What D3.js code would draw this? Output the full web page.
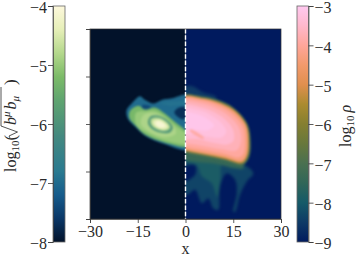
<!DOCTYPE html>
<html>
<head>
<meta charset="utf-8">
<script src="https://cdn.jsdelivr.net/npm/d3@7"></script>
<style>
  html, body { margin: 0; padding: 0; background: #fff; }
  svg text { font-family: "Liberation Serif", serif; fill: #2a2a2a; }
</style>
</head>
<body>
<div id="chart"></div>
<script>
const xTicks = [-30, -15, 0, 15, 30];
const yTicks = [-30, -15, 0, 15, 30];
const leftTicks = [-4, -5, -6, -7, -8];
const rightTicks = [-3, -4, -5, -6, -7, -8, -9];

// colormaps: value, colour
const leftStops = [[-8, '#02122a'], [-7.6, '#0a3767'], [-7.2, '#165c8c'], [-6.8, '#2a7a90'], [-6.2, '#44897f'], [-5.6, '#5fa470'], [-5.2, '#7cbb68'], [-4.8, '#b4d88c'], [-4.4, '#e6efb8'], [-4, '#fdf8dc']];
const rightStops = [[-9, '#001a5e'], [-8.5, '#0e3a66'], [-8, '#155a68'], [-7.5, '#316658'], [-7, '#4a7050'], [-6.5, '#68783c'], [-6, '#857f30'], [-5.5, '#ab8b30'], [-5, '#e08f4e'], [-4.5, '#f29a6c'], [-4, '#ffa69a'], [-3.5, '#ffb8cc'], [-3, '#ffc9f0']];

// left half: magnetic field, level then outline [x, y] in simulation units
const leftLevels = [-7.0, -6.9, -7.7, -7.4, -5.25, -5.0, -4.85, -5.9, -4.75, -4.4, -4.1];
const leftOutlines = [
  [[1, 9], [-4.3, 8.1], [-7.5, 7.6], [-10, 6.5], [-12.7, 7.6], [-14.3, 8.8], [-16.9, 6.5], [-18.5, 4.4], [-18.2, 1.8], [-15.9, -.8], [-12.7, -3.7], [-6.4, -6.4], [1, -7.9]],
  [[-8, 6.6], [-4, 7], [1, 7], [1, 5.8], [-2, 6], [-5, 5.8]],
  [[-2, 5.2], [1, 5], [1, 2.6], [-1, 1.5], [-3.5, 3.6]],
  [[-13.5, 6], [-11, 5.6], [-11.5, 4.6], [-13.5, 4.8]],
  [[-17.4, 4.2], [-14.8, 5.8], [-12.7, 4.6], [-9.6, 5.2], [-6.4, 3.2], [-3.3, .6], [1, -3.2], [1, -7], [-6.4, -5.9], [-12.7, -3.4], [-15.6, -.6], [-17.6, 1.8]],
  [[-15.5, 3.6], [-12, 4], [-9.6, 4.2], [-6.4, 2.4], [-3.3, -.4], [1, -4], [1, -6.2], [-6.4, -5.2], [-12, -2.9], [-15.4, -.4]],
  [[-13, 3], [-9.5, 3.4], [-6, 1.6], [-3.6, -.9], [-3, -3], [-7, -4.2], [-11.5, -2.4], [-14, 0]],
  [[-11, 2.4], [-8.5, 2.6], [-5.7, 1.2], [-4, -1], [-4.8, -2.6], [-7.5, -2.8], [-10.5, -1.6], [-11.8, .4]],
  [[-10.7, 1.7], [-8.4, 2], [-6, .7], [-4.8, -1], [-5.6, -2], [-7.6, -2.1], [-10, -1.1], [-11, .4]],
  [[-10, 1.2], [-8.2, 1.4], [-6.3, .4], [-5.4, -.9], [-6.2, -1.6], [-7.8, -1.6], [-9.5, -.8], [-10.3, .3]],
  [[-9.3, .7], [-8, .9], [-6.8, .1], [-6.2, -.7], [-7, -1.1], [-8.2, -1.1], [-9.2, -.4]]
];

// right half: thin gas below and above the torus
const plumeLevels = [-8.5, -8.35, -9, -7.9, -7.4];
const plumeOutlines = [
  [[-1, 11.5], [2, 12], [5.5, 10], [9.6, 8.5], [9, 6], [-1, 6]],
  [[-1, -8.2], [17.7, -12.4], [21.3, -15.6], [19.2, -18.2], [17.1, -22.4], [15.6, -27.7], [15, -27.7], [16.1, -21.9], [15.6, -17.7], [12.9, -15.6], [10.8, -19.8], [10.3, -27.1], [8.7, -26.6], [7.2, -23.5], [5.1, -25], [3, -20.8], [.4, -22.4], [-1, -18.7]],
  [[-1, -14], [3, -13], [3, -16], [-1, -18.2]],
  [[-1, -8.2], [17.7, -12.4], [18.4, -14], [14.5, -14], [11.5, -12.8], [11, -17.6], [10, -23], [8.2, -18.7], [5.2, -16.6], [3.5, -13], [-1, -11.5]],
  [[-1, -8.5], [12, -11], [18, -12.4], [18, -14], [14, -13.6], [9, -12.5], [4, -12], [-1, -11]]
];

// right half: density, level then outline
const rightLevels = [-7, -5.3, -4.3, -3.95, -3.7, -3.45, -3.25, -3.08, -3.9];
const rightOutlines = [
  [[-1, 8.9], [5, 8.8], [10, 7.7], [15, 5.2], [19.5, 0], [20.5, -6], [20, -10.5], [18, -13], [12.4, -11.6], [6.1, -10.4], [0, -9.2], [-1, -9]],
  [[-1, 8.5], [5, 8.3], [9.8, 7.2], [15.2, 4.6], [19.2, -.2], [20, -6], [19.5, -10.2], [17.8, -12.4], [12.4, -11.1], [6.1, -9.8], [0, -8.6], [-1, -8.4]],
  [[-1, 8.2], [5, 8], [9.6, 6.9], [14.9, 4.3], [18.9, -.4], [19.6, -6], [19.1, -10], [17.6, -11.8], [12.2, -10.5], [6, -9.3], [0, -8.1], [-1, -7.9]],
  [[-1, 7.6], [5, 7.4], [9.2, 6.2], [14.2, 3.6], [18, -.8], [18.7, -6], [18.2, -9.4], [16.8, -10.6], [12, -9.4], [6, -8.3], [0, -7.3], [-1, -7.1]],
  [[-1, 6.8], [5, 6.5], [9, 5.2], [13.5, 2.6], [16.8, -1.2], [17.4, -5.6], [16, -8.4], [11.5, -8], [6, -7], [0, -6], [-1, -5.8]],
  [[-1, 5.8], [4.5, 5.4], [8.5, 4], [12.5, 1.4], [15, -2], [15, -5.4], [13, -6.5], [9, -6], [4, -4.8], [-1, -4.2]],
  [[-1, 4.8], [4, 4.4], [8, 2.8], [11.2, .4], [12.8, -2.4], [11.5, -4.2], [8, -4.2], [3, -3.2], [-1, -2.8]],
  [[-1, 3.5], [4, 3], [7, 1.5], [9, -.5], [7, -2], [3, -1.8], [-1, -1.5]],
  [[1.5, -1.7], [5.8, -4.3], [5.6, -4.7], [1.3, -2.1]]
];

const width = 357, height = 257;
const plot = {left: 90, right: 281, top: 29, bottom: 219};
const cbar = {top: 6, bottom: 242};

const x = d3.scaleLinear().domain([-30, 30]).range([plot.left, plot.right]);
const y = d3.scaleLinear().domain([-30, 30]).range([plot.bottom, plot.top]);
const leftBarY = d3.scaleLinear().domain([-8, -4]).range([cbar.bottom, cbar.top]);
const rightBarY = d3.scaleLinear().domain([-9, -3]).range([cbar.bottom, cbar.top]);

const leftColor = d3.scaleLinear().domain(leftStops.map(d => d[0])).range(leftStops.map(d => d[1]));
const rightColor = d3.scaleLinear().domain(rightStops.map(d => d[0])).range(rightStops.map(d => d[1]));
const minus = d => String(d).replace('-', '\u2212');

const svg = d3.select('#chart').append('svg')
  .attr('width', width)
  .attr('height', height)
  .style('display', 'block');

const defs = svg.append('defs');

defs.append('clipPath').attr('id', 'clip-left').append('rect')
  .attr('x', x(-30)).attr('y', y(30)).attr('width', x(0) - x(-30)).attr('height', y(-30) - y(30));
defs.append('clipPath').attr('id', 'clip-right').append('rect')
  .attr('x', x(0)).attr('y', y(30)).attr('width', x(30) - x(0)).attr('height', y(-30) - y(30));

[['blur-fine', 0.8], ['blur-mid', 1.0], ['blur-wide', 1.4]].forEach(([id, s]) => {
  defs.append('filter').attr('id', id)
    .attr('x', '-20%').attr('y', '-20%').attr('width', '140%').attr('height', '140%')
    .attr('color-interpolation-filters', 'sRGB')
    .append('feGaussianBlur').attr('stdDeviation', s);
});

function gradient(id, stops, scale) {
  const g = defs.append('linearGradient').attr('id', id)
    .attr('x1', 0).attr('y1', 1).attr('x2', 0).attr('y2', 0);
  const [lo, hi] = d3.extent(scale.domain());
  stops.forEach(d => {
    g.append('stop')
      .attr('offset', (d[0] - lo) / (hi - lo))
      .attr('stop-color', d[1]);
  });
}
gradient('grad-left', leftStops, leftColor);
gradient('grad-right', rightStops, rightColor);

const outline = d3.line().x(d => x(d[0])).y(d => y(d[1])).curve(d3.curveCatmullRomClosed.alpha(0.5));

function half(clip, background, layers, color) {
  const g = svg.append('g').attr('clip-path', `url(#${clip})`);
  g.append('rect')
    .attr('x', x(-30)).attr('y', y(30))
    .attr('width', x(30) - x(-30)).attr('height', y(-30) - y(30))
    .attr('fill', background);
  layers.forEach(([blur, levels, outlines]) => {
    g.append('g').attr('filter', `url(#${blur})`)
      .selectAll('path')
      .data(outlines)
      .enter().append('path')
        .attr('d', outline)
        .attr('fill', (d, i) => color(levels[i]));
  });
}
half('clip-left', leftColor(-8), [['blur-fine', leftLevels, leftOutlines]], leftColor);
half('clip-right', rightColor(-9), [['blur-wide', plumeLevels, plumeOutlines], ['blur-mid', rightLevels, rightOutlines]], rightColor);

// frame and axes
svg.append('g')
    .attr('transform', `translate(0,${plot.bottom})`)
    .call(d3.axisBottom(x).tickValues(xTicks).tickSize(4).tickFormat(minus))
    .call(styleAxis);
svg.append('g')
    .attr('transform', `translate(${plot.left},0)`)
    .call(d3.axisLeft(y).tickValues(yTicks).tickSize(4).tickFormat(''))
    .call(styleAxis);

svg.append('line')
  .attr('x1', x(0)).attr('x2', x(0)).attr('y1', y(30)).attr('y2', y(-30))
  .attr('stroke', '#fff').attr('stroke-width', 1.4).attr('stroke-dasharray', '4.5,1.8');

svg.append('rect')
  .attr('x', plot.left).attr('y', plot.top)
  .attr('width', plot.right - plot.left).attr('height', plot.bottom - plot.top)
  .attr('fill', 'none').attr('stroke', '#333').attr('stroke-width', 0.7);

svg.append('text')
  .attr('x', x(0)).attr('y', 253.5)
  .attr('text-anchor', 'middle').attr('font-size', 16).text('x');

// colorbars
const leftBar = {x: 53, w: 12};
const rightBar = {x: 297, w: 11.5};

svg.append('rect')
  .attr('x', leftBar.x).attr('y', cbar.top).attr('width', leftBar.w).attr('height', cbar.bottom - cbar.top)
  .attr('fill', 'url(#grad-left)').attr('stroke', '#666').attr('stroke-width', 0.8);
svg.append('rect')
  .attr('x', rightBar.x).attr('y', cbar.top).attr('width', rightBar.w).attr('height', cbar.bottom - cbar.top)
  .attr('fill', 'url(#grad-right)').attr('stroke', '#666').attr('stroke-width', 0.8);

svg.append('g')
    .attr('transform', `translate(${leftBar.x},0)`)
    .call(d3.axisLeft(leftBarY).tickValues(leftTicks).tickSize(5).tickFormat(minus))
    .call(styleAxis)
    .call(g => g.selectAll('.tick text').attr('dy', '.42em').attr('x', -6));
svg.append('g')
    .attr('transform', `translate(${rightBar.x + rightBar.w},0)`)
    .call(d3.axisRight(rightBarY).tickValues(rightTicks).tickSize(5).tickFormat(minus))
    .call(styleAxis)
    .call(g => g.selectAll('.tick text').attr('dy', '.42em').attr('x', 6));

// colorbar titles
const leftTitle = svg.append('g').attr('transform', 'translate(16,172) rotate(-90)');
const logText = leftTitle.append('text').attr('font-size', 16);
logText.append('tspan').text('log');
logText.append('tspan').attr('font-size', 11).attr('dy', 3).text('10');
logText.append('tspan').attr('dy', -3).attr('font-size', 17).text('(');
leftTitle.append('path')
  .attr('d', 'M34,-6 L36,-7 L40,1.5 L46,-15 L85,-15')
  .attr('fill', 'none').attr('stroke', '#2a2a2a').attr('stroke-width', 0.8);
const rootText = leftTitle.append('text').attr('x', 47).attr('font-size', 16).attr('font-style', 'italic');
rootText.append('tspan').text('b');
rootText.append('tspan').attr('font-size', 11).attr('dy', -6).text('\u03BC');
rootText.append('tspan').attr('dy', 6).attr('dx', 2).text('b');
rootText.append('tspan').attr('font-size', 11).attr('dy', 3).text('\u03BC');
leftTitle.append('text').attr('x', 87).attr('font-size', 17).text(')');

const rightTitle = svg.append('text')
  .attr('transform', 'translate(351,147) rotate(-90)')
  .attr('font-size', 16);
rightTitle.append('tspan').text('log');
rightTitle.append('tspan').attr('font-size', 11).attr('dy', 3).text('10');
rightTitle.append('tspan').attr('dy', -3).attr('dx', 3).attr('font-style', 'italic').text('\u03C1');

function styleAxis(g) {
  g.select('.domain').attr('stroke', '#444').attr('stroke-width', 0.7);
  g.selectAll('.tick line').attr('stroke', '#333').attr('stroke-width', 0.8);
  g.selectAll('.tick text')
    .attr('font-size', 16)
    .style('font-family', '"Liberation Serif", serif')
    .attr('fill', '#2a2a2a');
}
</script>
</body>
</html>
